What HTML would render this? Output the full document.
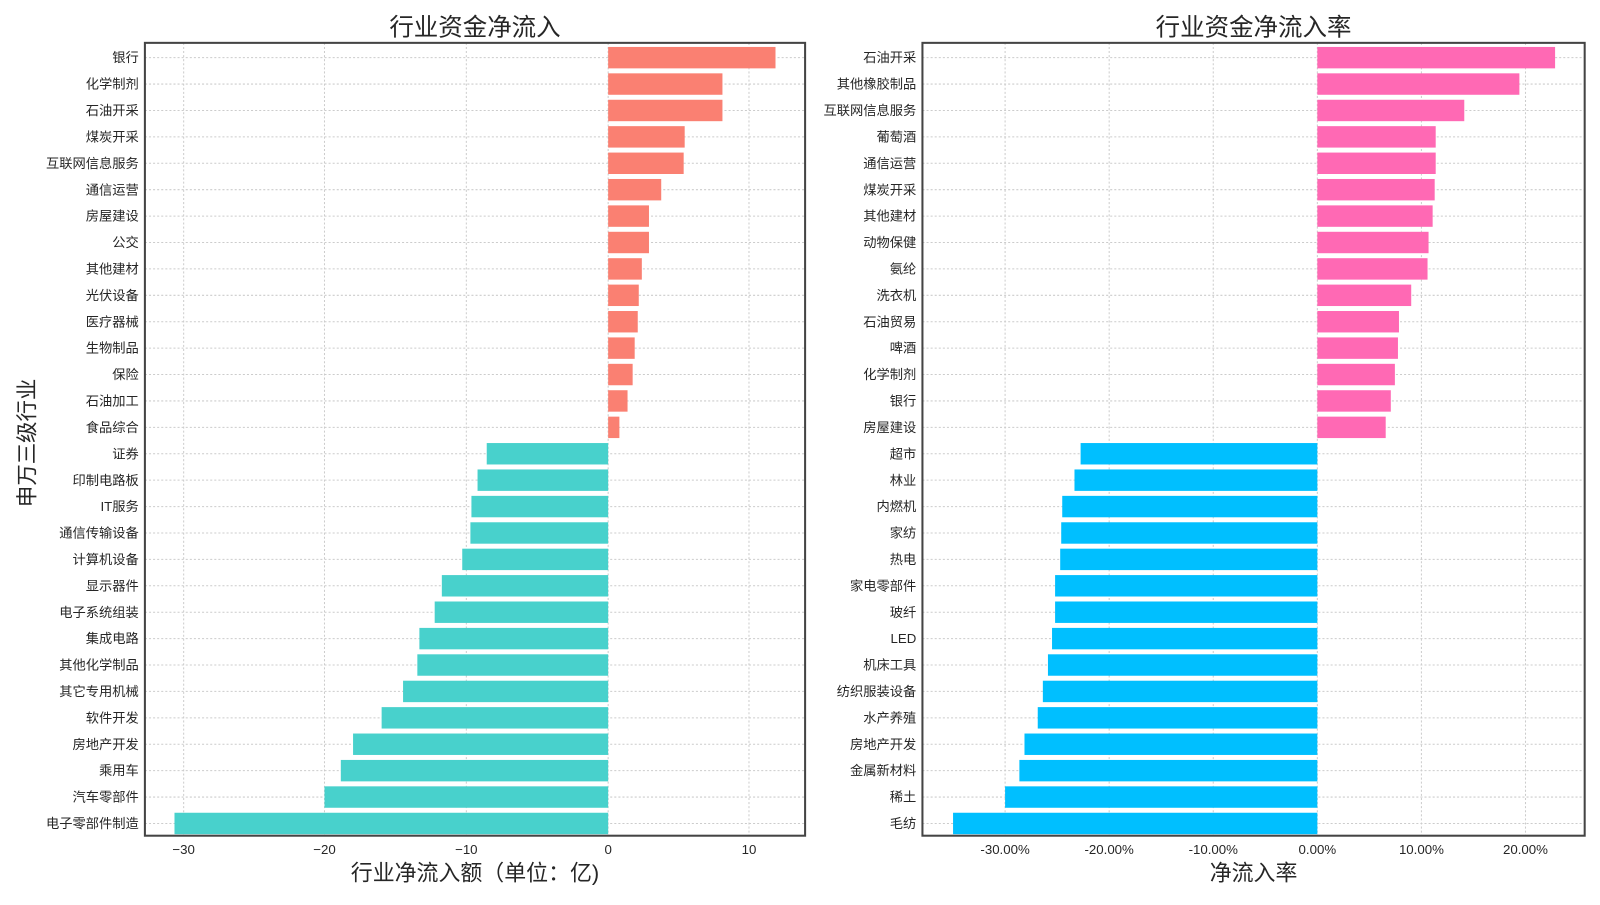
<!DOCTYPE html>
<html><head><meta charset="utf-8"><style>
body{margin:0;background:#fff;}
svg text{font-family:"Liberation Sans","Noto Sans CJK SC",sans-serif;fill:#262626;}
</style></head><body>
<svg width="1600" height="900" xmlns="http://www.w3.org/2000/svg"><g id="s" transform="scale(1.0204)"></g></svg>
<script>
const L=[["银行",760],["化学制剂",708],["石油开采",708],["煤炭开采",671],["互联网信息服务",670],["通信运营",648],["房屋建设",636],["公交",636],["其他建材",629],["光伏设备",626],["医疗器械",625],["生物制品",622],["保险",620],["石油加工",615],["食品综合",607],["证券",477],["印制电路板",468],["IT服务",462],["通信传输设备",461],["计算机设备",453],["显示器件",433],["电子系统组装",426],["集成电路",411],["其他化学制品",409],["其它专用机械",395],["软件开发",374],["房地产开发",346],["乘用车",334],["汽车零部件",318],["电子零部件制造",171]];
const R=[["石油开采",1524],["其他橡胶制品",1489],["互联网信息服务",1435],["葡萄酒",1407],["通信运营",1407],["煤炭开采",1406],["其他建材",1404],["动物保健",1400],["氨纶",1399],["洗衣机",1383],["石油贸易",1371],["啤酒",1370],["化学制剂",1367],["银行",1363],["房屋建设",1358],["超市",1059],["林业",1053],["内燃机",1041],["家纺",1040],["热电",1039],["家电零部件",1034],["玻纤",1034],["LED",1031],["机床工具",1027],["纺织服装设备",1022],["水产养殖",1017],["房地产开发",1004],["金属新材料",999],["稀土",985],["毛纺",934]];
let h='';
function panel(D,x0,x1,z,ticks,cp,cn,title,xl){
  const y0=42,y1=819,sp=(807-56.5)/29;
  ticks.forEach(t=>{h+=`<line x1="${t[0]}" y1="${y0}" x2="${t[0]}" y2="${y1}" stroke="#ccc" stroke-dasharray="2,2" stroke-width="1"/>`;});
  D.forEach((d,i)=>{const c=56.5+i*sp;h+=`<line x1="${x0}" y1="${c}" x2="${x1}" y2="${c}" stroke="#ccc" stroke-dasharray="2,2" stroke-width="1"/>`;});
  D.forEach((d,i)=>{const c=56.5+i*sp;const a=Math.min(z,d[1]),w=Math.abs(d[1]-z);
    h+=`<rect x="${a}" y="${c-10.5}" width="${w}" height="21" fill="${d[1]>z?cp:cn}"/>`;
    h+=`<text x="${x0-6}" y="${c+4.5}" font-size="13" text-anchor="end">${d[0]}</text>`;});
  ticks.forEach(t=>{h+=`<text x="${t[0]}" y="837" font-size="13" text-anchor="middle">${t[1]}</text>`;});
  h+=`<rect x="${x0}" y="${y0}" width="${x1-x0}" height="${y1-y0}" fill="none" stroke="#444" stroke-width="2"/>`;
  h+=`<text x="${(x0+x1)/2}" y="35" font-size="24" text-anchor="middle">${title}</text>`;
  h+=`<text x="${(x0+x1)/2}" y="863" font-size="21.5" text-anchor="middle">${xl}</text>`;
}
panel(L,142,789,596,[[180,"−30"],[318,"−20"],[457,"−10"],[596,"0"],[734,"10"]],"#FA8072","#48D1CC","行业资金净流入","行业净流入额（单位：亿)");
panel(R,904,1553,1291,[[985,"-30.00%"],[1087,"-20.00%"],[1189,"-10.00%"],[1291,"0.00%"],[1393,"10.00%"],[1495,"20.00%"]],"#FF69B4","#00BFFF","行业资金净流入率","净流入率");
h+=`<text transform="translate(34,434) rotate(-90)" font-size="21" text-anchor="middle">申万三级行业</text>`;
document.getElementById('s').innerHTML=h;
</script>
</body></html>
